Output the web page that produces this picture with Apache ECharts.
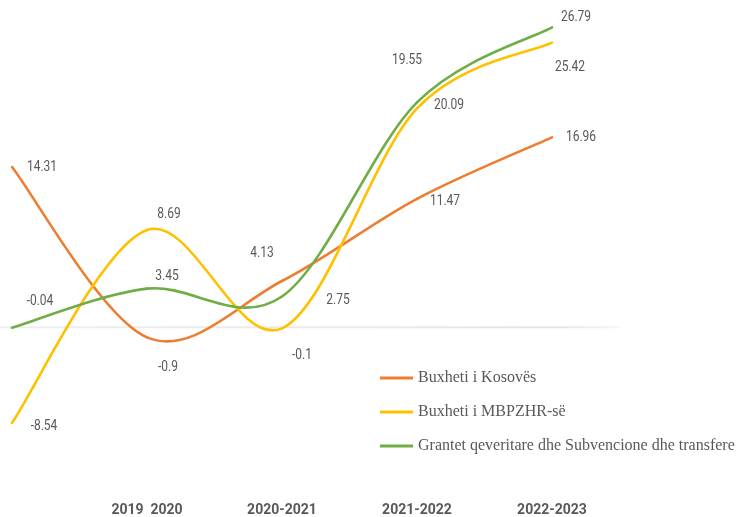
<!DOCTYPE html>
<html><head><meta charset="utf-8">
<script src="https://cdn.jsdelivr.net/npm/echarts@6/dist/echarts.min.js"></script>
<style>html,body{margin:0;padding:0;background:#fff;}#c{width:741px;height:517px;}</style>
</head><body><div id="c"></div>
<script>
const categories = ['', '2019  2020', '2020-2021', '2021-2022', '2022-2023'];
const seriesNames = ['Buxheti i Kosovës', 'Buxheti i MBPZHR-së', 'Grantet qeveritare dhe Subvencione dhe transfere'];
const kosova = [14.31, -0.9, 4.13, 11.47, 16.96];
const mbpzhr = [-8.54, 8.69, -0.1, 19.55, 25.42];
const grantet = [-0.04, 3.45, 2.75, 20.09, 26.79];

const colors = ['#ED7D31', '#FFC000', '#70AD47'];
const labelOffsets = [
  [[30,0],[21,30],[-20,-28],[28,2],[29,0]],
  [[32,3],[22,-16],[20,27],[-10,-48],[18,25]],
  [[28,-26],[20,-12],[56,4],[32,3],[24,-10]]
];
const values = [kosova, mbpzhr, grantet];
const labelFont = '15px Roboto, sans-serif';

function makeRender(si) {
  const vals = values[si];
  const n = vals.length;
  return function (params, api) {
    const i = params.dataIndex;
    const P = k => {
      const kk = Math.max(0, Math.min(n - 1, k));
      return api.coord([kk, vals[kk]]);
    };
    const children = [];
    if (i < n - 1) {
      const p0 = P(i - 1), p1 = P(i), p2 = P(i + 1), p3 = P(i + 2);
      children.push({
        type: 'bezierCurve',
        z2: 1,
        shape: {
          x1: p1[0], y1: p1[1], x2: p2[0], y2: p2[1],
          cpx1: p1[0] + (p2[0] - p0[0]) / 6, cpy1: p1[1] + (p2[1] - p0[1]) / 6,
          cpx2: p2[0] - (p3[0] - p1[0]) / 6, cpy2: p2[1] - (p3[1] - p1[1]) / 6
        },
        style: {stroke: colors[si], lineWidth: 2.6, fill: null, lineCap: 'round'}
      });
    }
    const c = P(i);
    const off = labelOffsets[si][i];
    children.push({
      type: 'text',
      z2: 5,
      x: c[0] + off[0],
      y: c[1] + off[1],
      scaleX: 0.8,
      style: {
        text: String(vals[i]),
        fill: '#595959',
        font: labelFont,
        align: 'center',
        verticalAlign: 'middle'
      }
    });
    return {type: 'group', children: children};
  };
}

const series = values.map((vals, si) => ({
  name: seriesNames[si],
  type: 'custom',
  renderItem: makeRender(si),
  itemStyle: {color: colors[si]},
  z: 2 + si,
  encode: {x: 0, y: 1},
  data: vals.map((v, i) => [i, v])
}));

const chart = echarts.init(document.getElementById('c'));
chart.setOption({
  animation: false,
  color: colors,
  grid: {left: 12, right: 189, top: 25, bottom: 89},
  xAxis: {
    type: 'category',
    data: categories,
    boundaryGap: false,
    axisLine: {show: false},
    axisTick: {show: false},
    splitLine: {show: false},
    axisLabel: {
      margin: 75,
      color: '#595959',
      fontFamily: 'Roboto',
      fontWeight: 'bold',
      fontSize: 14,
      interval: 0
    }
  },
  yAxis: {
    type: 'value',
    min: -9,
    max: 27,
    show: false,
    splitLine: {show: false}
  },
  legend: {
    orient: 'vertical',
    left: 380,
    top: 369,
    padding: 0,
    icon: 'rect',
    itemWidth: 33,
    itemHeight: 3,
    itemGap: 16,
    textStyle: {
      fontFamily: 'Liberation Serif',
      fontSize: 16,
      color: '#595959',
      lineHeight: 18
    },
    data: seriesNames
  },
  series: series
});

const y0 = chart.convertToPixel({yAxisIndex: 0}, 0);
chart.setOption({
  graphic: [{
    type: 'line',
    z: 0,
    shape: {x1: 0, y1: y0, x2: 620, y2: y0},
    style: {
      stroke: new echarts.graphic.LinearGradient(0, 0, 1, 0, [
        {offset: 0, color: '#eeeeee'},
        {offset: 0.9, color: '#e6e6e6'},
        {offset: 1, color: '#f6f6f6'}
      ]),
      lineWidth: 2
    }
  }]
});
</script>
</body></html>
